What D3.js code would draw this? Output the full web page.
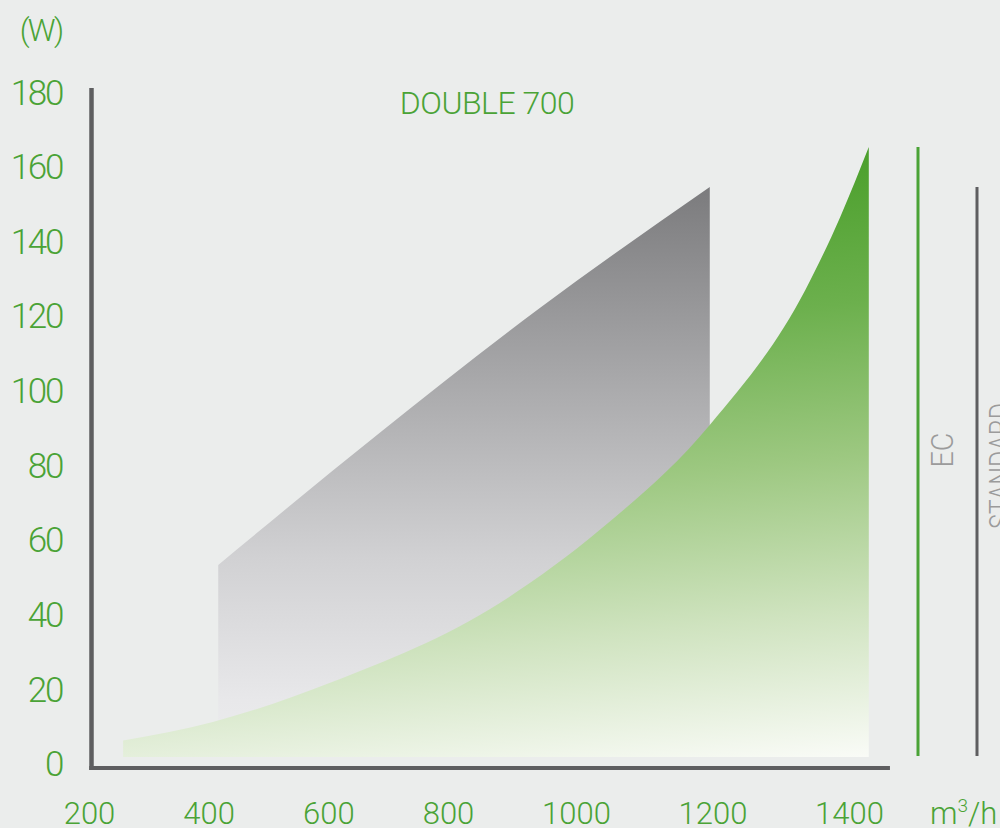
<!DOCTYPE html>
<html>
<head>
<meta charset="utf-8">
<script src="https://cdn.jsdelivr.net/npm/d3@7"></script>
<style>
  body { margin: 0; background: #ebedec; }
  svg { display: block; }
  text { font-family: Roboto, "Open Sans", sans-serif; font-weight: 300; }
</style>
</head>
<body>
<svg id="chart" width="1000" height="828"></svg>
<script>
// data
const flowTicks = [200, 400, 600, 800, 1000, 1200, 1400];
const powerTicks = [0, 20, 40, 60, 80, 100, 120, 140, 160, 180];

// EC fan (green)
const ecFlow  = [257, 407, 603, 881, 1035, 1196, 1336, 1387, 1429];
const ecPower = [6.4, 11.4, 21.9, 43.3, 62.9, 91.0, 127.2, 146.7, 165.5];

// standard fan (grey)
const stdFlow  = [416, 686, 944, 1196];
const stdPower = [53.5, 88.9, 122.4, 154.8];

const baseW = 2;          // foot of the shaded areas
const title = 'DOUBLE 700';

const width = 1000, height = 828;
const green = '#4aa336', axisCol = '#5e5e60', labelGrey = '#9b9b9b';

const svg = d3.select('#chart');

// scales (the printed axis is not evenly spaced, so piecewise)
const x = d3.scaleLinear().domain([200, 800, 1000, 1400]).range([89, 448, 576, 849]);
const y = d3.scaleLinear().domain([0, 180]).range([764.5, 92.9]);

const ecData = ecFlow.map((f, i) => ({ f, p: ecPower[i] }));
const stdData = stdFlow.map((f, i) => ({ f, p: stdPower[i] }));

// gradients
const defs = svg.append('defs');
const gGreen = defs.append('linearGradient')
  .attr('id', 'gGreen').attr('gradientUnits', 'userSpaceOnUse')
  .attr('x1', x(1429)).attr('y1', y(d3.max(ecPower)))
  .attr('x2', x(1429) + 60).attr('y2', y(baseW));
[[0, '#4a9f2b'], [0.25, '#6cb04d'], [0.5, '#9dc881'], [0.75, '#cfe3bf'], [1, '#fbfcf9']]
  .forEach(s => gGreen.append('stop').attr('offset', s[0]).attr('stop-color', s[1]));

const gGrey = defs.append('linearGradient')
  .attr('id', 'gGrey').attr('gradientUnits', 'userSpaceOnUse')
  .attr('x1', 0).attr('y1', y(d3.max(stdPower)))
  .attr('x2', 0).attr('y2', y(baseW));
[[0, '#7b7b7d'], [0.35, '#aaaaac'], [0.65, '#d1d1d3'], [0.9, '#e8e8ea'], [1, '#ecedee']]
  .forEach(s => gGrey.append('stop').attr('offset', s[0]).attr('stop-color', s[1]));

// areas
const area = d3.area()
  .x(d => x(d.f))
  .y0(y(baseW))
  .y1(d => y(d.p))
  .curve(d3.curveMonotoneX);

svg.append('path').attr('d', area(stdData)).attr('fill', 'url(#gGrey)');
svg.append('path').attr('d', area(ecData)).attr('fill', 'url(#gGreen)');

// axis lines
svg.append('line')
  .attr('x1', x(200) + 2.5).attr('x2', x(200) + 2.5)
  .attr('y1', y(181.3)).attr('y2', y(-1.5))
  .attr('stroke', axisCol).attr('stroke-width', 4.5);
svg.append('line')
  .attr('x1', x(200) + 0.3).attr('x2', x(1460))
  .attr('y1', y(0) + 3.5).attr('y2', y(0) + 3.5)
  .attr('stroke', axisCol).attr('stroke-width', 4);

// tick labels
const yAxis = d3.axisLeft(y).tickValues(powerTicks).tickSize(0).tickPadding(29.5);
const yg = svg.append('g').attr('transform', `translate(${x(200) + 2.5},0)`).call(yAxis);
yg.select('.domain').remove();
yg.selectAll('text')
  .attr('fill', green).style('font-size', '35px').style('letter-spacing', '-2.3px')
  .attr('font-family', null);

const xAxis = d3.axisBottom(x).tickValues(flowTicks).tickFormat(d3.format('d'))
  .tickSize(0).tickPadding(34);
const xg = svg.append('g').attr('transform', `translate(0,${y(0) + 3.5})`).call(xAxis);
xg.select('.domain').remove();
xg.selectAll('text')
  .attr('fill', green).style('font-size', '31px')
  .attr('font-family', null);

// units
svg.append('text').attr('x', 62).attr('y', 41)
  .attr('text-anchor', 'end').attr('fill', green).style('font-size', '31px')
  .style('letter-spacing', '-2px')
  .text('(W)');

const unit = svg.append('text').attr('x', 930).attr('y', 824)
  .attr('fill', green).style('font-size', '31px');
unit.append('tspan').text('m');
unit.append('tspan').attr('dy', -12).style('font-size', '19px').text('3');
unit.append('tspan').attr('dy', 12).text('/h');

// title
svg.append('text').attr('x', 487).attr('y', 114)
  .attr('text-anchor', 'middle').attr('fill', green).style('font-size', '32px')
  .style('letter-spacing', '-0.5px')
  .text(title);

// range bars on the right
const bars = [
  { name: 'EC', max: d3.max(ecPower), col: green, lx: 918, tx: 953, ty: 450, len: 35 },
  { name: 'STANDARD', max: d3.max(stdPower), col: axisCol, lx: 977, tx: 1011, ty: 466, len: 126 }
];
bars.forEach(b => {
  svg.append('line')
    .attr('x1', b.lx).attr('x2', b.lx)
    .attr('y1', y(b.max)).attr('y2', y(baseW) - 1)
    .attr('stroke', b.col).attr('stroke-width', 3);
  svg.append('text')
    .attr('transform', `translate(${b.tx},${b.ty}) rotate(-90)`)
    .attr('text-anchor', 'middle').attr('fill', labelGrey)
    .attr('textLength', b.len).attr('lengthAdjust', 'spacingAndGlyphs')
    .style('font-size', '32px')
    .text(b.name);
});
</script>
</body>
</html>
